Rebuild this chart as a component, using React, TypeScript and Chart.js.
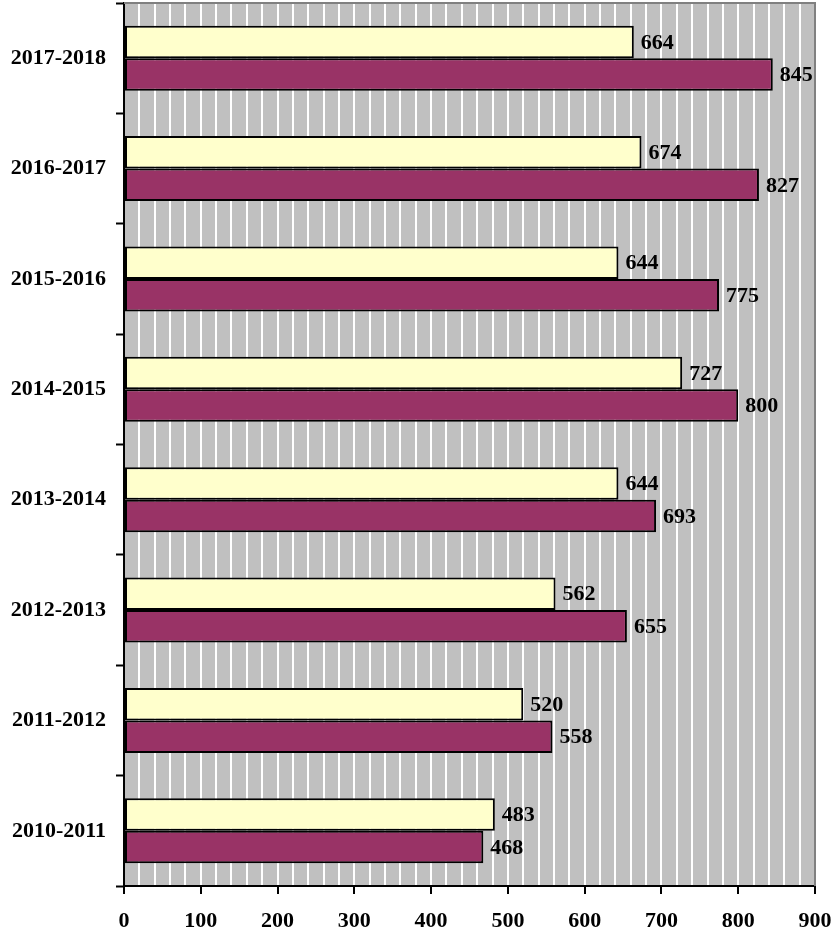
import React, { useEffect, useRef } from "react";
import { Chart, registerables } from "chart.js";

Chart.register(...registerables);

const categories = ["2017-2018", "2016-2017", "2015-2016", "2014-2015", "2013-2014", "2012-2013", "2011-2012", "2010-2011"];
const seriesA = [664, 674, 644, 727, 644, 562, 520, 483];
const seriesB = [845, 827, 775, 800, 693, 655, 558, 468];
const xMin = 0;
const xMax = 900;
const xStep = 20;
const labelStep = 100;

const FONT = "'Liberation Serif', 'Times New Roman', serif";

const plotBg = {
  id: "plotBg",
  beforeDraw(chart: any) {
    const { ctx, chartArea } = chart;
    ctx.save();
    ctx.fillStyle = "#C0C0C0";
    ctx.fillRect(chartArea.left, chartArea.top, chartArea.right - chartArea.left, chartArea.bottom - chartArea.top);
    ctx.restore();
  },
  afterDatasetsDraw(chart: any) {
    const { ctx, chartArea } = chart;
    ctx.save();
    ctx.strokeStyle = "#808080";
    ctx.lineWidth = 2;
    ctx.beginPath();
    ctx.moveTo(chartArea.left, chartArea.top);
    ctx.lineTo(chartArea.right, chartArea.top);
    ctx.lineTo(chartArea.right, chartArea.bottom);
    ctx.stroke();
    ctx.restore();
  },
};

const valueLabels = {
  id: "valueLabels",
  afterDatasetsDraw(chart: any) {
    const { ctx } = chart;
    ctx.save();
    ctx.font = `bold 22px ${FONT}`;
    ctx.fillStyle = "#000";
    ctx.textAlign = "left";
    ctx.textBaseline = "middle";
    chart.data.datasets.forEach((ds: any, di: number) => {
      const meta = chart.getDatasetMeta(di);
      meta.data.forEach((el: any, i: number) => {
        ctx.fillText(String(ds.data[i]), el.x + 7, el.y + 1);
      });
    });
    ctx.restore();
  },
};

export default function App() {
  const ref = useRef<HTMLCanvasElement>(null);
  useEffect(() => {
    document.body.style.margin = "0";
    const chart = new Chart(ref.current!, {
      type: "bar",
      data: {
        labels: categories,
        datasets: [
          { label: "A", data: seriesA, backgroundColor: "#FFFFCC", borderColor: "#000", borderWidth: 2, borderSkipped: false },
          { label: "B", data: seriesB, backgroundColor: "#993366", borderColor: "#000", borderWidth: 2, borderSkipped: false },
        ],
      },
      plugins: [plotBg, valueLabels],
      options: {
        indexAxis: "y",
        animation: false,
        responsive: false,
        devicePixelRatio: 1,
        layout: { padding: { top: 3, right: 17, left: 0, bottom: 0 } },
        plugins: { legend: { display: false }, tooltip: { enabled: false } },
        datasets: { bar: { categoryPercentage: 0.59, barPercentage: 1 } },
        scales: {
          x: {
            min: xMin,
            max: xMax,
            ticks: {
              stepSize: xStep,
              autoSkip: false,
              maxRotation: 0,
              color: "#000",
              font: { family: FONT, size: 22, weight: "bold" },
              padding: 14,
              callback: (v: any) => (Number(v) % labelStep === 0 ? String(v) : ""),
            },
            grid: {
              color: (c: any) => (c.tick && c.tick.value === xMax ? "#808080" : "#FFFFFF"),
              lineWidth: 2,
              tickLength: 8,
              tickColor: (c: any) => (c.tick && c.tick.value % labelStep === 0 ? "#000" : "rgba(0,0,0,0)"),
              tickWidth: 2,
            },
            border: { color: "#000", width: 2 },
            afterFit: (s: any) => { s.height = 49; s.paddingLeft = 0; s.paddingRight = 0; },
          },
          y: {
            ticks: {
              color: "#000",
              font: { family: FONT, size: 22, weight: "bold" },
              padding: 10,
            },
            grid: {
              offset: true,
              drawOnChartArea: false,
              tickLength: 8,
              color: "#000",
              tickWidth: 2,
            },
            border: { color: "#000", width: 2 },
            afterFit: (s: any) => { s.width = 124; s.paddingTop = 0; s.paddingBottom = 0; },
          },
        },
      },
    });
    return () => chart.destroy();
  }, []);
  return (
    <div style={{ position: "absolute", left: 0, top: 0, width: 832, height: 935, background: "#fff" }}>
      <canvas ref={ref} width={832} height={935} style={{ display: "block" }} />
    </div>
  );
}
